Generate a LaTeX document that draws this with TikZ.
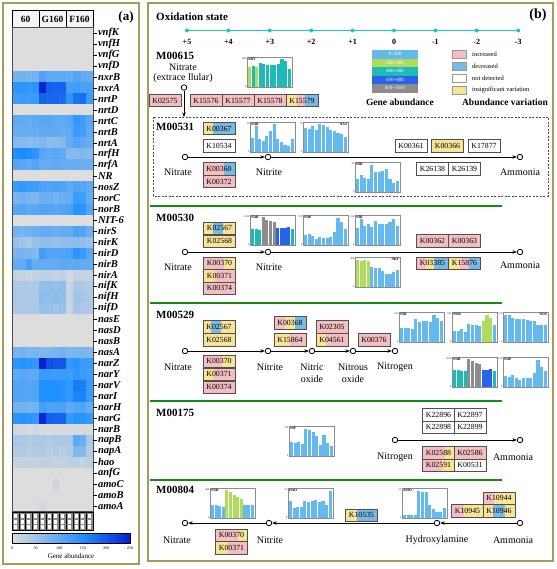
\documentclass[tikz,border=0pt]{standalone}
\usepackage{fontspec}
\setmainfont{Liberation Serif}
\usetikzlibrary{arrows.meta,calc}
\definecolor{framec}{RGB}{165,155,90}
\definecolor{hgray}{RGB}{221,221,221}
\definecolor{hblue}{RGB}{30,144,255}
\definecolor{hdark}{RGB}{10,30,210}
\definecolor{bb}{RGB}{100,185,238}
\definecolor{bg}{RGB}{175,220,90}
\definecolor{bt}{RGB}{30,185,185}
\definecolor{bd}{RGB}{40,100,235}
\definecolor{bk}{RGB}{140,140,140}
\definecolor{kpink}{RGB}{245,190,195}
\definecolor{kblue}{RGB}{120,185,230}
\definecolor{kyellow}{RGB}{248,228,150}
\definecolor{kborder}{RGB}{80,80,80}
\definecolor{oxc}{RGB}{34,196,204}
\definecolor{gsep}{RGB}{20,140,20}
\tikzset{
 frame/.style={draw=framec, line width=1.4pt},
 kbox/.style={draw=kborder, line width=0.5pt, minimum width=32pt, minimum height=12.5pt, inner sep=0pt, font=\fontsize{7.8}{9}\selectfont},
 st/.style={circle, draw, line width=0.8pt, fill=white, minimum size=5.5pt, inner sep=0pt},
 flow/.style={line width=0.8pt, -{Stealth[length=4.5pt,width=3.5pt]}},
 comp/.style={font=\fontsize{10}{11.5}\selectfont, align=center, inner sep=0pt},
 mlab/.style={font=\bfseries\fontsize{11}{13}\selectfont, anchor=west, inner sep=0pt},
 glab/.style={font=\bfseries\itshape\fontsize{10.5}{11}\selectfont, anchor=west, inner sep=0.3pt},
 chframe/.style={draw=black!45, line width=0.5pt},
 chlab/.style={font=\bfseries\fontsize{3.6}{4}\selectfont, inner sep=0.3pt},
 chnum/.style={font=\fontsize{2.6}{3}\selectfont, inner sep=0.2pt},
 oxdot/.style={circle, fill=oxc, inner sep=0pt, minimum size=4pt},
 oxline/.style={draw=oxc, line width=1.2pt},
 oxlab/.style={font=\bfseries\fontsize{8}{9}\selectfont, inner sep=0pt},
 gchip/.style={minimum width=46pt, minimum height=8.5pt, inner sep=0pt, text=white, font=\fontsize{5}{6}\selectfont},
 vchip/.style={draw=black!40, line width=0.5pt, minimum width=14pt, minimum height=8pt, inner sep=0pt},
 vlab/.style={anchor=west, font=\fontsize{6.5}{7}\selectfont, inner sep=0pt},
 legt/.style={font=\bfseries\fontsize{9.5}{11}\selectfont, inner sep=0pt},
 dbox/.style={draw=black!70, dash pattern=on 2pt off 1.5pt, line width=0.6pt},
 gline/.style={draw=gsep, line width=2pt},
}
\newcommand{\KB}[5]{%
  \foreach \segc/\sega/\segb in {#5}{%
    \fill[fill=\segc] ({#2-16+32*\sega},{#3-6.25}) rectangle ({#2-16+32*\segb},{#3+6.25});}
  \node[kbox] (#1) at (#2,#3) {#4};}
\newcommand{\chart}[8]{%
  \foreach \hh/\bc [count=\bi] in {#8}{%
    \fill[fill=\bc] ({#2+0.9+(\bi-1)*3.62},{#3+30}) rectangle ++(3.05,{-28.5*\hh});}
  \draw[chframe] (#2,#3) rectangle ++(45,30);
  \node[chlab,anchor=#5] (#1) at (#2+#6,#3+0.6) {#4};
  \node[chnum,anchor=east] (#1max) at (#2-0.3,#3+1.5) {#7};
  \node[chnum,anchor=east] (#1zero) at (#2-0.3,#3+29.5) {0};}
\begin{document}
\begin{tikzpicture}[x=1pt,y=-1pt]
\useasboundingbox (0,0) rectangle (556,569);
\fill[white] (0,0) rectangle (556,569);
% ---------------- frames
\draw[frame] (3,3) rectangle (139,564);
\draw[frame] (148,3) rectangle (553,561);
% ---------------- panel (a)
\draw[fill=black!4, line width=0.5pt] (12,10) rectangle (93,27.5);
\draw[line width=0.5pt] (39,10) -- (39,27.5) (66,10) -- (66,27.5);
\node[font=\bfseries\fontsize{9.5}{10}\selectfont] (h1) at (25.5,19) {60};
\node[font=\bfseries\fontsize{9.5}{10}\selectfont] (h2) at (52.5,19) {G160};
\node[font=\bfseries\fontsize{9.5}{10}\selectfont] (h3) at (79.5,19) {F160};
\node[font=\bfseries\fontsize{13}{14}\selectfont] (pa) at (126,17) {(a)};
\foreach \vals [count=\r] in {
{0,0,0,0,0,0,0,0,0,0,0,0},
{0,0,0,0,0,0,0,0,0,0,0,0},
{0,0,0,0,0,0,0,0,0,0,0,0},
{0,0,0,0,0,0,0,0,0,0,0,0},
{85,85,80,85,115,100,100,100,95,110,100,95},
{140,140,135,140,245,195,190,190,120,125,115,120},
{125,130,125,130,190,185,185,180,140,175,180,130},
{0,0,0,0,0,0,0,0,0,0,0,0},
{100,100,95,100,105,105,100,100,105,135,125,105},
{95,95,90,95,100,100,100,95,100,130,120,100},
{70,70,65,70,75,65,65,70,95,110,100,95},
{150,155,150,140,105,100,105,100,70,70,75,70},
{110,105,100,110,95,95,100,95,90,95,90,90},
{0,0,0,0,0,0,0,0,0,0,0,0},
{130,135,130,125,115,110,115,110,100,110,105,100},
{80,85,80,75,90,90,85,90,95,130,125,95},
{105,110,100,105,110,110,105,110,115,145,140,110},
{0,0,0,0,0,0,0,0,0,0,0,0},
{85,80,85,90,95,95,90,95,95,115,110,90},
{55,50,40,55,60,60,55,60,60,65,60,55},
{80,80,75,70,125,110,110,110,115,140,130,105},
{95,95,120,95,95,95,95,100,100,100,95,95},
{20,20,15,20,25,25,20,25,10,20,20,20},
{40,40,35,40,60,60,55,60,15,40,40,35},
{40,40,40,40,65,60,65,60,20,50,45,40},
{40,40,40,40,55,55,50,55,15,45,40,40},
{0,0,0,0,0,0,0,0,0,0,0,0},
{0,0,0,0,0,0,0,0,0,0,0,0},
{0,0,0,0,0,0,0,0,0,0,0,0},
{80,85,75,80,75,75,80,85,75,80,80,75},
{140,145,140,135,250,205,200,200,135,140,130,130},
{100,105,100,100,130,130,125,130,125,135,130,125},
{110,110,105,110,150,150,150,145,135,170,165,130},
{110,110,105,110,150,150,150,145,135,160,160,130},
{85,85,80,85,120,115,115,115,100,110,110,95},
{140,145,140,135,240,195,190,190,135,145,140,135},
{10,10,5,10,5,5,5,5,5,5,5,5},
{40,40,35,40,40,35,40,40,40,100,90,40},
{35,35,30,35,35,30,35,30,35,75,70,35},
{20,20,20,20,25,25,20,20,25,25,20,30},
{0,0,0,0,0,0,0,0,0,0,0,0},
{0,0,0,0,0,0,15,0,0,0,0,0},
{0,0,0,0,0,0,0,0,0,0,0,0},
{0,0,0,0,10,0,0,0,0,0,0,0}}{
  \foreach \v [count=\c] in \vals {
    \ifnum\v>150\relax
      \pgfmathtruncatemacro\hq{\v-150}\edef\hc{hdark!\hq!hblue}%
    \else
      \pgfmathtruncatemacro\hq{\v/1.5}\edef\hc{hblue!\hq!hgray}%
    \fi
    \fill[fill=\hc] ({12+(\c-1)*6.75},{27.5+(\r-1)*11}) rectangle ++(6.85,11.1);
  }
}
\draw[line width=0.5pt, black!70] (12,27.5) rectangle (93,511.5);
\foreach \g [count=\r] in {vnfK,vnfH,vnfG,vnfD,nxrB,nxrA,nrtP,nrtD,nrtC,nrtB,nrtA,nrfH,nrfA,NR,nosZ,norC,norB,NIT-6,nirS,nirK,nirD,nirB,nirA,nifK,nifH,nifD,nasE,nasD,nasB,nasA,narZ,narY,narV,narI,narH,narG,narB,napB,napA,hao,anfG,amoC,amoB,amoA}{
  \draw[line width=0.5pt] (93,{27.5+(\r-0.5)*11}) -- ++(3.5,0);
  \node[glab] (g\r) at (97.5,{27.5+(\r-0.5)*11}) {\g};
}
\foreach \c in {1,...,12}{
  \draw[fill=black!45, line width=0.3pt] ({12+(\c-1)*6.75},512) rectangle ++(6.75,18);
  \fill[white] ({12+(\c-1)*6.75+1.8},514) rectangle ++(3.1,4);
  \fill[white] ({12+(\c-1)*6.75+1.8},519.5) rectangle ++(3.1,4);
  \fill[white] ({12+(\c-1)*6.75+1.8},525) rectangle ++(3.1,3.5);
}
\shade[left color=hgray, right color=hblue] (12,533) rectangle (82.8,543);
\shade[left color=hblue, right color=hdark] (82.8,533) rectangle (130,543);
\draw[line width=0.4pt] (12,533) rectangle (130,543);
\foreach \t [count=\i] in {0,50,100,150,200,250}{
  \node[font=\fontsize{4}{5}\selectfont, inner sep=0pt] (cb\i) at ({12+\t*0.472},548) {\t};
}
\node[font=\fontsize{7}{8}\selectfont, inner sep=0pt] (cbt) at (71,556) {Gene abundance};
% ---------------- panel (b) header
\node[font=\bfseries\fontsize{11}{13}\selectfont, anchor=west, inner sep=0pt] (oxt) at (156,17) {Oxidation state};
\node[font=\bfseries\fontsize{14}{16}\selectfont, inner sep=0pt] (pb) at (538,15) {(b)};
\foreach \s [count=\i] in {+5,+4,+3,+2,+1,0,-1,-2,-3}{
  \node[oxdot] (ox\i) at ({187+(\i-1)*41.4},30.5) {};
  \node[oxlab] (oxl\i) at ({187+(\i-1)*41.4},42) {\s};
}
\draw[oxline] (ox1) -- (ox9);
% legends
\foreach \lab/\col [count=\i] in {0\textasciitilde200/bb,200\textasciitilde400/bg,400\textasciitilde600/bt,600\textasciitilde800/bd,800\textasciitilde1000/bk}{
  \node[gchip, fill=\col] (ga\i) at (395,{54.3+(\i-1)*8.5}) {\lab};
}
\node[legt] (gat) at (400,102) {Gene abundance};
\foreach \lab/\col [count=\i] in {increased/kpink,decreased/kblue,not detected/white,insignificant variation/kyellow}{
  \node[vchip, fill=\col] (va\i) at (459,{54+(\i-1)*12}) {};
  \node[vlab] (vl\i) at (472,{54+(\i-1)*12}) {\lab};
}
\node[legt] (vat) at (505,102) {Abundance variation};
% ---------------- M00615
\node[mlab] (m615) at (156,56) {M00615};
\node[comp] (n615) at (183,67) {Nitrate};
\node[comp] (n615b) at (183,78) {(extrace llular)};
\node[st] (c615) at (184,87.5) {};
\coordinate (dtop) at (184,117);
\draw[flow] (c615) -- (dtop);
\chart{nrt}{247}{57}{NRT}{north west}{0.5}{600}{.70/bg,.74/bt,.70/bg,.84/bt,.80/bt,.78/bt,.76/bt,.76/bt,.82/bt,.97/bt,.90/bt,.64/bt}
\KB{k2575}{165}{100.5}{K02575}{kpink/0/1}
\KB{k15576}{206}{100.5}{K15576}{kpink/0/1}
\KB{k15577}{238}{100.5}{K15577}{kpink/0/1}
\KB{k15578}{270}{100.5}{K15578}{kpink/0/1}
\KB{k15579}{302}{100.5}{K15579}{kyellow/0/0.35,kpink/0.35/0.6,kblue/0.6/1}
% ---------------- M00531
\draw[dbox] (153,117) rectangle (548,196);
\node[mlab] (m531) at (156,127) {M00531};
\KB{b367}{219}{128.5}{K00367}{kyellow/0/0.3,kblue/0.3/1}
\KB{b10534}{219}{146}{K10534}{white/0/1}
\KB{b360}{219}{169}{K00360}{kpink/0/0.65,kblue/0.65/1}
\KB{b372}{219}{181.5}{K00372}{kpink/0/1}
\chart{nar1}{250}{122}{NAR}{north west}{0.5}{25}{.50/bb,.90/bb,.45/bb,.40/bb,.55/bb,.75/bb,.97/bb,.45/bb,.35/bb,.25/bb,.22/bb,.45/bb}
\chart{nas1}{303}{122}{NAS}{north east}{44.5}{70}{.85/bb,.80/bb,.90/bb,.76/bb,.97/bb,.93/bb,.86/bb,.78/bb,.74/bb,.68/bb,.62/bb,.52/bb}
\chart{nir1}{355}{162}{NIR}{north west}{0.5}{33}{.45/bb,.60/bb,.50/bb,.45/bb,.95/bb,.70/bb,.70/bb,.72/bb,.80/bb,.45/bb,.30/bb,.40/bb}
\KB{b361}{411}{146}{K00361}{white/0/1}
\KB{b366}{447.5}{146}{K00366}{kyellow/0/1}
\KB{b17877}{484}{146}{K17877}{white/0/1}
\KB{b26138}{432.5}{169}{K26138}{white/0/1}
\KB{b26139}{464.5}{169}{K26139}{white/0/1}
\node[st] (a1) at (185,157) {};
\node[st] (a2) at (268,157) {};
\node[st] (a3) at (520,157) {};
\draw[flow] (a1) -- (a2);
\draw[flow] (a2) -- (a3);
\node[comp] (la1) at (178,172) {Nitrate};
\node[comp] (la2) at (269,172) {Nitrite};
\node[comp] (la3) at (520,172) {Ammonia};
% ---------------- M00530
\draw[gline] (150,206) -- (502,206);
\node[mlab] (m530) at (156,218) {M00530};
\KB{c2567}{219.5}{228}{K02567}{kyellow/0/0.3,kblue/0.3/0.6,kyellow/0.6/1}
\KB{c2568}{219.5}{241}{K02568}{kyellow/0/1}
\KB{c370}{219.5}{263}{K00370}{kpink/0/0.65,kyellow/0.65/1}
\KB{c371}{219.5}{275.5}{K00371}{kyellow/0/0.35,kpink/0.35/1}
\KB{c374}{219.5}{288}{K00374}{kpink/0/1}
\chart{nar2}{250}{215}{NAR}{north west}{0.5}{1100}{.55/bt,.55/bt,.52/bt,.97/bk,.88/bk,.85/bk,.80/bk,.60/bd,.60/bd,.60/bd,.62/bd,.55/bt}
\chart{nap2}{303}{215}{NAP}{north west}{0.5}{170}{.35/bb,.40/bb,.33/bb,.20/bb,.27/bb,.25/bb,.25/bb,.27/bb,.45/bb,.95/bb,.82/bb,.55/bb}
\chart{nir2}{355}{215}{NIR}{north west}{0.5}{210}{.60/bb,.90/bb,.65/bb,.72/bb,.62/bb,.85/bb,.75/bb,.72/bb,.72/bb,.82/bb,.92/bb,.65/bb}
\chart{nrf2}{355}{257}{NRF}{north east}{44.5}{300}{.95/bg,.90/bg,.95/bg,.90/bg,.70/bb,.68/bb,.68/bb,.55/bb,.45/bb,.47/bb,.52/bb,.60/bb}
\KB{c362}{432.5}{240.5}{K00362}{kpink/0/1}
\KB{c363}{464.5}{240.5}{K00363}{kpink/0/1}
\KB{c3385}{432.5}{263}{K03385}{kpink/0/0.3,kyellow/0.3/0.55,kblue/0.55/1}
\KB{c15876}{464.5}{263}{K15876}{kyellow/0/0.35,kpink/0.35/0.65,kblue/0.65/1}
\node[st] (b1) at (185,252) {};
\node[st] (b2) at (268,252) {};
\node[st] (b3) at (520,252) {};
\draw[flow] (b1) -- (b2);
\draw[flow] (b2) -- (b3);
\node[comp] (lb1) at (178,267) {Nitrate};
\node[comp] (lb2) at (269,267) {Nitrite};
\node[comp] (lb3) at (520,265) {Ammonia};
% ---------------- M00529
\draw[gline] (150,303) -- (502,303);
\node[mlab] (m529) at (156,315) {M00529};
\KB{d2567}{219}{326.5}{K02567}{kyellow/0/0.25,kblue/0.25/0.55,kyellow/0.55/1}
\KB{d2568}{219}{339.5}{K02568}{kyellow/0/1}
\KB{d370}{219}{361}{K00370}{kpink/0/0.6,kyellow/0.6/1}
\KB{d371}{219}{374}{K00371}{kyellow/0/0.35,kpink/0.35/1}
\KB{d374}{219}{387}{K00374}{kpink/0/1}
\KB{d368}{290}{322.5}{K00368}{kpink/0/0.35,kyellow/0.35/0.65,kblue/0.65/1}
\KB{d15864}{290}{339.5}{K15864}{kyellow/0/0.5,kpink/0.5/1}
\KB{d2305}{332}{326.5}{K02305}{kpink/0/1}
\KB{d4561}{332}{339.5}{K04561}{kyellow/0/0.3,kpink/0.3/1}
\KB{d376}{374}{339.5}{K00376}{kpink/0/1}
\chart{nir3}{399}{312}{NIR}{north west}{0.5}{150}{.50/bb,.50/bb,.48/bb,.45/bb,.80/bb,.70/bb,.72/bb,.72/bb,.70/bb,.95/bb,.85/bb,.72/bb}
\chart{nor3}{452}{312}{NOR}{north west}{0.5}{100}{.40/bb,.40/bb,.45/bb,.35/bb,.62/bb,.60/bb,.58/bb,.55/bb,.75/bg,.95/bg,.85/bg,.60/bb}
\chart{nos3}{503}{312}{NOS}{north east}{44.5}{170}{.95/bb,.95/bb,.85/bb,.82/bb,.80/bb,.80/bb,.78/bb,.72/bb,.72/bb,.60/bb,.60/bb,.60/bb}
\chart{nar3}{452}{357}{NAR}{north west}{0.5}{1100}{.58/bt,.58/bt,.55/bt,.55/bt,.97/bk,.90/bk,.85/bk,.80/bk,.60/bd,.60/bd,.62/bd,.55/bt}
\chart{nap3}{503}{357}{NAP}{north west}{0.5}{170}{.40/bb,.35/bb,.42/bb,.30/bb,.25/bb,.30/bb,.30/bb,.30/bb,.50/bb,.95/bb,.70/bb,.55/bb}
\node[st] (e1) at (185,351) {};
\node[st] (e2) at (268,351) {};
\node[st] (e3) at (312,351) {};
\node[st] (e4) at (353,351) {};
\node[st] (e5) at (395,351) {};
\draw[flow] (e1) -- (e2);
\draw[flow] (e2) -- (e3);
\draw[flow] (e3) -- (e4);
\draw[flow] (e4) -- (e5);
\node[comp] (le1) at (178,367) {Nitrate};
\node[comp] (le2) at (270,367) {Nitrite};
\node[comp] (le3) at (312,373) {Nitric\\oxide};
\node[comp] (le4) at (353,373) {Nitrous\\oxide};
\node[comp] (le5) at (395,367) {Nitrogen};
% ---------------- M00175
\draw[gline] (150,401) -- (502,401);
\node[mlab] (m175) at (156,413) {M00175};
\chart{nif4}{289}{426}{NIF}{north west}{0.5}{170}{.50/bb,.45/bb,.48/bb,.42/bb,.95/bb,.90/bb,.85/bb,.70/bb,.40/bb,.75/bb,.45/bb,.35/bb}
\KB{e2896}{438.5}{414.5}{K22896}{white/0/1}
\KB{e2897}{470}{414.5}{K22897}{white/0/1}
\KB{e2898}{438.5}{427}{K22898}{white/0/1}
\KB{e2899}{470}{427}{K22899}{white/0/1}
\KB{e2588}{438.5}{452.5}{K02588}{kpink/0/0.7,kyellow/0.7/1}
\KB{e2586}{470}{452.5}{K02586}{kpink/0/1}
\KB{e2591}{438.5}{465}{K02591}{kpink/0/0.6,kyellow/0.6/1}
\KB{e531}{470}{465}{K00531}{white/0/1}
\node[st] (f1) at (395,440) {};
\node[st] (f2) at (520,440) {};
\draw[flow] (f1) -- (f2);
\node[comp] (lf1) at (395,457) {Nitrogen};
\node[comp] (lf2) at (513,457) {Ammonia};
% ---------------- M00804
\draw[gline] (150,480) -- (502,480);
\node[mlab] (m804) at (156,490) {M00804};
\chart{nxr5}{210}{488}{NXR}{north west}{0.5}{400}{.45/bb,.45/bb,.42/bb,.40/bb,.97/bg,.90/bg,.80/bg,.75/bg,.68/bg,.45/bb,.45/bb,.45/bb}
\chart{hao5}{288}{488}{HAO}{north west}{0.5}{50}{.60/bb,.35/bb,.38/bb,.40/bb,.60/bb,.55/bb,.60/bb,.62/bb,.55/bb,.58/bb,.45/bb,.95/bb}
\chart{amo5}{402}{488}{AMO}{north west}{0.5}{25}{.12/bb,.12/bb,.10/bb,.10/bb,.95/bb,.90/bb,.92/bb,.45/bb,.30/bb,.20/bb,.20/bb,.35/bb}
\KB{f10535}{361.5}{515}{K10535}{kyellow/0/0.35,kblue/0.35/1}
\KB{f10944}{499}{498}{K10944}{kpink/0/0.35,kyellow/0.35/1}
\KB{f10945}{467.5}{510.5}{K10945}{kpink/0/0.4,kyellow/0.4/1}
\KB{f10946}{499}{510.5}{K10946}{kyellow/0/0.3,kblue/0.3/0.7,kyellow/0.7/1}
\KB{f370}{231.5}{535}{K00370}{kpink/0/0.7,kyellow/0.7/1}
\KB{f371}{231.5}{547.5}{K00371}{kyellow/0/0.4,kpink/0.4/1}
\node[st] (g1) at (185,523) {};
\node[st] (g2) at (269,523) {};
\node[st] (g3) at (437,523) {};
\node[st] (g4) at (520,523) {};
\draw[flow] (g4) -- (g3);
\draw[flow] (g3) -- (g2);
\draw[flow] (g2) -- (g1);
\node[comp] (lg1) at (177,540) {Nitrate};
\node[comp] (lg2) at (270,540) {Nitrite};
\node[comp] (lg3) at (437,540) {Hydroxylamine};
\node[comp] (lg4) at (513,540) {Ammonia};
\end{tikzpicture}
\end{document}
